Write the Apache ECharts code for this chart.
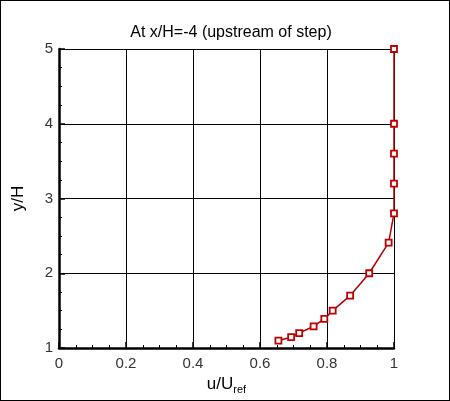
<!DOCTYPE html><html><head><meta charset="utf-8"><script src="https://cdn.jsdelivr.net/npm/echarts@6/dist/echarts.min.js"></script>
<style>html,body{margin:0;padding:0;background:#fff}#c{width:450px;height:401px;box-sizing:border-box;border:1px solid #000}</style></head><body><div id="c"></div><script>
const uValues=[0.655,0.693,0.717,0.76,0.792,0.817,0.869,0.926,0.984,1.0,1.0,1.0,1.0,1.0];
const yValues=[1.10,1.145,1.20,1.29,1.39,1.50,1.70,2.0,2.41,2.8,3.2,3.6,4.0,5.0];
const title="At x/H=-4 (upstream of step)";
const chart=echarts.init(document.getElementById('c'));
const axisCommon={axisLine:{show:true,lineStyle:{color:'#000',width:2.5}},axisTick:{show:true,inside:true,length:6,lineStyle:{color:'#000',width:1.5}},minorTick:{show:true,splitNumber:4,length:3,lineStyle:{color:'#000'}},splitLine:{show:true,lineStyle:{color:'#000',width:1}},axisLabel:{color:'#333',fontFamily:'Liberation Sans',fontSize:15}};
chart.setOption({animation:false,
title:{text:title,left:225,top:19,textAlign:'center',textStyle:{fontFamily:'Liberation Sans',fontWeight:'normal',fontSize:16,color:'#000'}},
grid:{left:58,top:48,width:335,height:307},
xAxis:Object.assign({type:'value',min:0,max:1,interval:0.2,name:'{m|u/U}{s|ref}',nameLocation:'middle',nameGap:26,nameTextStyle:{rich:{m:{fontFamily:'Liberation Sans',fontSize:17,color:'#000'},s:{fontFamily:'Liberation Sans',fontSize:11,color:'#000',verticalAlign:'bottom',padding:[10,0,0,0]}}}},axisCommon,{axisLabel:Object.assign({},axisCommon.axisLabel,{margin:8})}),
yAxis:Object.assign({type:'value',min:1,max:5,interval:1,name:'y/H',nameLocation:'middle',nameGap:32,nameTextStyle:{fontFamily:'Liberation Sans',fontSize:17,color:'#000'}},axisCommon,{axisLabel:Object.assign({},axisCommon.axisLabel,{margin:6})}),
series:[{type:'line',data:uValues.map((u,i)=>[u,yValues[i]]),smooth:false,symbol:'rect',symbolSize:6,itemStyle:{color:'#fff',borderColor:'#c00000',borderWidth:1.8},lineStyle:{color:'#b00000',width:1.5}}]});
</script></body></html>
